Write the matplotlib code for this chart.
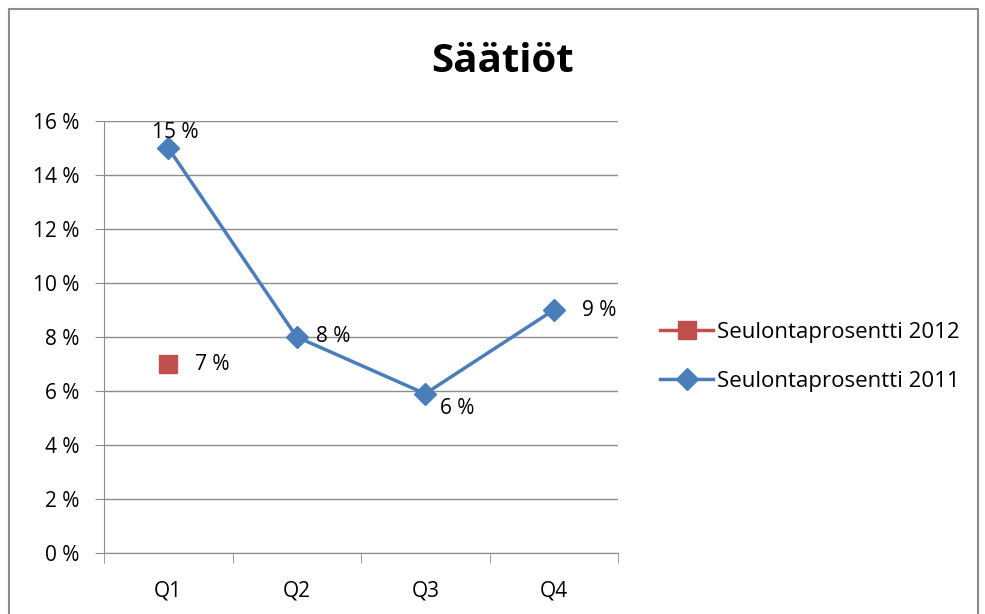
import matplotlib.pyplot as plt
from matplotlib.patches import Rectangle
from matplotlib.ticker import FuncFormatter

plt.rcParams['font.family'] = ['Open Sans', 'DejaVu Sans']

quarters = ['Q1', 'Q2', 'Q3', 'Q4']
rate_2011 = [15, 8, 5.9, 9]
labels_2011 = ['15 %', '8 %', '6 %', '9 %']
rate_2012 = [7]
labels_2012 = ['7 %']

blue = '#4A7EBB'
red = '#C0504D'

fig = plt.figure(figsize=(9.85, 6.14), dpi=100)
# outer chart border
fig.patches.append(Rectangle((9 / 985, -0.1), (978 - 9) / 985, 1.1 - 9 / 614,
                             transform=fig.transFigure, fill=False,
                             edgecolor='#8C8C8C', linewidth=1.5))
ax = fig.add_axes([104 / 985, 1 - 553 / 614, (618 - 104) / 985, (553 - 121) / 614])

x = list(range(len(quarters)))
ax.plot(x[:len(rate_2012)], rate_2012, color=red, marker='s', markersize=13,
        linewidth=2.5, label='Seulontaprosentti 2012')
ax.plot(x, rate_2011, color=blue, marker='D', markersize=11,
        linewidth=2.5, label='Seulontaprosentti 2011')

# data labels
offsets_2011 = [(7, 16), (36, 0), (32, -15), (45, 0)]
for xi, yi, lab, off in zip(x, rate_2011, labels_2011, offsets_2011):
    ax.annotate(lab, (xi, yi), xytext=off, textcoords='offset pixels',
                ha='center', va='center', fontsize=15)
for xi, yi, lab in zip(x, rate_2012, labels_2012):
    ax.annotate(lab, (xi, yi), xytext=(44, 0), textcoords='offset pixels',
                ha='center', va='center', fontsize=15)

ax.set_xlim(-0.5, 3.5)
ax.set_ylim(0, 16)
ax.set_yticks(range(0, 17, 2))
ax.yaxis.set_major_formatter(FuncFormatter(lambda v, p: f'{int(v)} %'))
ax.set_xticks(x)
ax.set_xticklabels(quarters)
ax.set_xticks([-0.5, 0.5, 1.5, 2.5, 3.5], minor=True)
ax.tick_params(axis='x', which='major', length=0, pad=20, labelsize=15)
ax.tick_params(axis='x', which='minor', length=7, color='#8C8C8C')
ax.tick_params(axis='y', length=6.5, color='#8C8C8C', labelsize=15, pad=11)
ax.grid(axis='y', color='#8C8C8C', linewidth=1)
ax.set_axisbelow(True)
for s in ['top', 'right']:
    ax.spines[s].set_visible(False)
for s in ['left', 'bottom']:
    ax.spines[s].set_color('#8C8C8C')

fig.text(503 / 985, 1 - 62 / 614, 'Säätiöt', ha='center', va='center',
         fontsize=29, fontweight='bold')

ax.legend(loc='center left', bbox_to_anchor=(640 / 985, 1 - 357 / 614),
          bbox_transform=fig.transFigure, frameon=False, fontsize=16,
          handlelength=2.4, handletextpad=0.15, labelspacing=1.25)

fig.savefig('out.png', dpi=100)
